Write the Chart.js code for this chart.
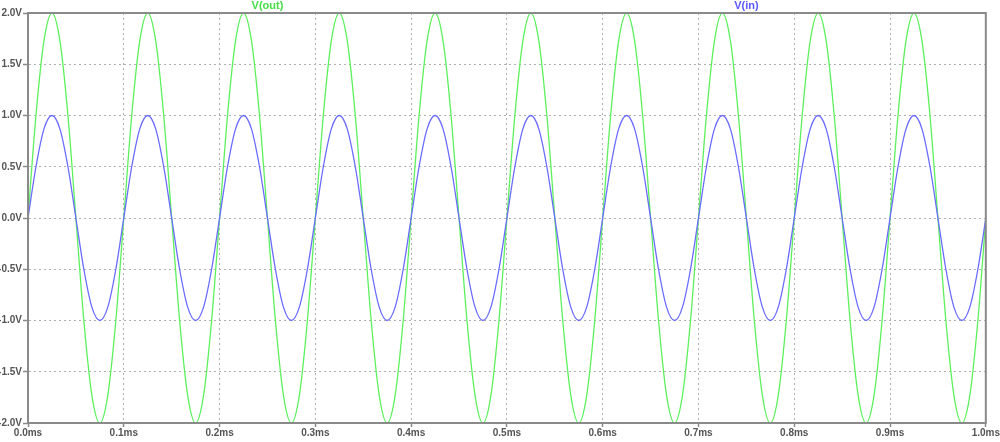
<!DOCTYPE html>
<html>
<head>
<meta charset="utf-8">
<script src="https://cdn.jsdelivr.net/npm/chart.js@4/dist/chart.umd.min.js"></script>
<style>
html,body{margin:0;padding:0;background:#fff;}
#wrap{width:1000px;height:442px;position:relative;}
</style>
</head>
<body>
<div id="wrap"><canvas id="c" width="1000" height="442"></canvas></div>
<script>
// time in microseconds (axis labelled in ms)
const timeUs = [
  0,8.3,16.7,25,33.3,41.7,50,58.3,66.7,75,83.3,91.7,
  100,108.3,116.7,125,133.3,141.7,150,158.3,166.7,175,183.3,191.7,
  200,208.3,216.7,225,233.3,241.7,250,258.3,266.7,275,283.3,291.7,
  300,308.3,316.7,325,333.3,341.7,350,358.3,366.7,375,383.3,391.7,
  400,408.3,416.7,425,433.3,441.7,450,458.3,466.7,475,483.3,491.7,
  500,508.3,516.7,525,533.3,541.7,550,558.3,566.7,575,583.3,591.7,
  600,608.3,616.7,625,633.3,641.7,650,658.3,666.7,675,683.3,691.7,
  700,708.3,716.7,725,733.3,741.7,750,758.3,766.7,775,783.3,791.7,
  800,808.3,816.7,825,833.3,841.7,850,858.3,866.7,875,883.3,891.7,
  900,908.3,916.7,925,933.3,941.7,950,958.3,966.7,975,983.3,991.7,
  1000
];
const vOut = [
  0,1,1.73,2,1.73,1,0,-1,-1.73,-2,-1.73,-1,
  0,1,1.73,2,1.73,1,0,-1,-1.73,-2,-1.73,-1,
  0,1,1.73,2,1.73,1,0,-1,-1.73,-2,-1.73,-1,
  0,1,1.73,2,1.73,1,0,-1,-1.73,-2,-1.73,-1,
  0,1,1.73,2,1.73,1,0,-1,-1.73,-2,-1.73,-1,
  0,1,1.73,2,1.73,1,0,-1,-1.73,-2,-1.73,-1,
  0,1,1.73,2,1.73,1,0,-1,-1.73,-2,-1.73,-1,
  0,1,1.73,2,1.73,1,0,-1,-1.73,-2,-1.73,-1,
  0,1,1.73,2,1.73,1,0,-1,-1.73,-2,-1.73,-1,
  0,1,1.73,2,1.73,1,0,-1,-1.73,-2,-1.73,-1,
  0
];
const vIn = [
  0,0.5,0.87,1,0.87,0.5,0,-0.5,-0.87,-1,-0.87,-0.5,
  0,0.5,0.87,1,0.87,0.5,0,-0.5,-0.87,-1,-0.87,-0.5,
  0,0.5,0.87,1,0.87,0.5,0,-0.5,-0.87,-1,-0.87,-0.5,
  0,0.5,0.87,1,0.87,0.5,0,-0.5,-0.87,-1,-0.87,-0.5,
  0,0.5,0.87,1,0.87,0.5,0,-0.5,-0.87,-1,-0.87,-0.5,
  0,0.5,0.87,1,0.87,0.5,0,-0.5,-0.87,-1,-0.87,-0.5,
  0,0.5,0.87,1,0.87,0.5,0,-0.5,-0.87,-1,-0.87,-0.5,
  0,0.5,0.87,1,0.87,0.5,0,-0.5,-0.87,-1,-0.87,-0.5,
  0,0.5,0.87,1,0.87,0.5,0,-0.5,-0.87,-1,-0.87,-0.5,
  0,0.5,0.87,1,0.87,0.5,0,-0.5,-0.87,-1,-0.87,-0.5,
  0
];
const seriesNames = ['V(out)', 'V(in)'];
const seriesColors = ['#5cf05c', '#6b6bff'];
const labelColors = ['#46e046', '#5a5aff'];

const toPts = (ys) => ys.map((y, i) => ({x: timeUs[i], y: y}));

const frameAndLabels = {
  id: 'frameAndLabels',
  afterDatasetsDraw(chart) {
    const ctx = chart.ctx, a = chart.chartArea;
    ctx.save();
    ctx.setLineDash([]);
    ctx.strokeStyle = '#8a8a8a';
    ctx.lineWidth = 2;
    ctx.strokeRect(a.left, a.top, a.right - a.left, a.bottom - a.top);
    ctx.font = 'bold 11px "Liberation Sans", Arial, sans-serif';
    ctx.textAlign = 'center';
    ctx.textBaseline = 'middle';
    const n = chart.data.datasets.length;
    chart.data.datasets.forEach((ds, i) => {
      ctx.fillStyle = labelColors[i];
      ctx.fillText(ds.label, a.left + (a.right - a.left) * (i + 0.5) / n, a.top - 7);
    });
    ctx.restore();
  }
};

const tickFont = {family: '"Liberation Sans", Arial, sans-serif', size: 10, weight: 'bold'};

new Chart(document.getElementById('c'), {
  type: 'line',
  data: {
    datasets: [
      {label: seriesNames[0], data: toPts(vOut), borderColor: seriesColors[0], borderWidth: 1.3, pointRadius: 0, cubicInterpolationMode: 'monotone', order: 1, fill: false},
      {label: seriesNames[1], data: toPts(vIn), borderColor: seriesColors[1], borderWidth: 1.3, pointRadius: 0, cubicInterpolationMode: 'monotone', order: 0, fill: false}
    ]
  },
  options: {
    responsive: false,
    animation: false,
    layout: {padding: {top: 13, right: 13, left: 0, bottom: 0}},
    plugins: {legend: {display: false}, tooltip: {enabled: false}},
    scales: {
      x: {
        type: 'linear', min: 0, max: 1000,
        afterFit(s) { s.height = 19; },
        ticks: {stepSize: 100, autoSkip: false, maxRotation: 0, padding: 0,
          color: '#555', font: tickFont,
          callback: (v) => (v / 1000).toFixed(1) + 'ms'},
        grid: {color: '#b0b0b0', lineWidth: 1, tickLength: 4, tickColor: '#8a8a8a', tickBorderDash: [], tickWidth: 1.5},
        border: {display: true, color: '#8a8a8a', width: 2, dash: [2, 3]}
      },
      y: {
        min: -2, max: 2,
        afterFit(s) { s.width = 28; },
        ticks: {stepSize: 0.5, padding: 1,
          color: '#555', font: tickFont,
          callback: (v) => v.toFixed(1) + 'V'},
        grid: {color: '#b0b0b0', lineWidth: 1, tickLength: 5, tickColor: '#8a8a8a', tickBorderDash: [], tickWidth: 1.5},
        border: {display: true, color: '#8a8a8a', width: 2, dash: [2, 3]}
      }
    }
  },
  plugins: [frameAndLabels]
});
</script>
</body>
</html>
